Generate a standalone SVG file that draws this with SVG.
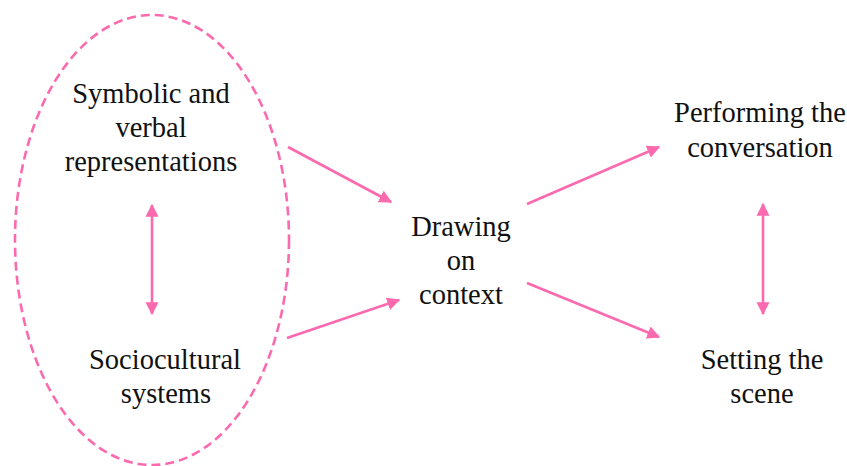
<svg xmlns="http://www.w3.org/2000/svg" width="847" height="466" viewBox="0 0 847 466">
<style>
text{font-family:"Liberation Serif","Times New Roman",serif;font-size:28.5px;fill:#111;text-anchor:middle}
.c{stroke:#fb6aae;stroke-width:2.6;fill:none}
</style>
<defs>
<marker id="ah" viewBox="0 0 10 10" refX="9" refY="5" markerWidth="5" markerHeight="5.2" orient="auto-start-reverse" markerUnits="strokeWidth">
<path d="M0,0 L10,5 L0,10 z" fill="#fb6aae"/>
</marker>
</defs>
<rect width="847" height="466" fill="#fff"/>
<ellipse id="group-ellipse" cx="152" cy="240" rx="137" ry="225" fill="none" stroke="#fb6aae" stroke-width="2.6" stroke-dasharray="9 5"/>
<g id="symbolic"><text x="151" y="103">Symbolic and</text><text x="151" y="137">verbal</text><text x="151" y="171">representations</text></g>
<g id="sociocultural"><text x="165" y="369">Sociocultural</text><text x="166" y="403">systems</text></g>
<g id="drawing"><text x="461" y="236">Drawing</text><text x="461" y="270">on</text><text x="461" y="304">context</text></g>
<g id="performing"><text x="760" y="122">Performing the</text><text x="760" y="157">conversation</text></g>
<g id="setting"><text x="762" y="369">Setting the</text><text x="762" y="403">scene</text></g>
<g id="connectors">
<line class="c" x1="152" y1="205" x2="152" y2="314" marker-start="url(#ah)" marker-end="url(#ah)"/>
<line class="c" x1="763" y1="204" x2="763" y2="314" marker-start="url(#ah)" marker-end="url(#ah)"/>
<line class="c" x1="288" y1="147" x2="391" y2="202" marker-end="url(#ah)"/>
<line class="c" x1="287" y1="338" x2="399" y2="300" marker-end="url(#ah)"/>
<line class="c" x1="527" y1="204" x2="659" y2="147" marker-end="url(#ah)"/>
<line class="c" x1="527" y1="283" x2="659" y2="337" marker-end="url(#ah)"/>
</g>
</svg>
